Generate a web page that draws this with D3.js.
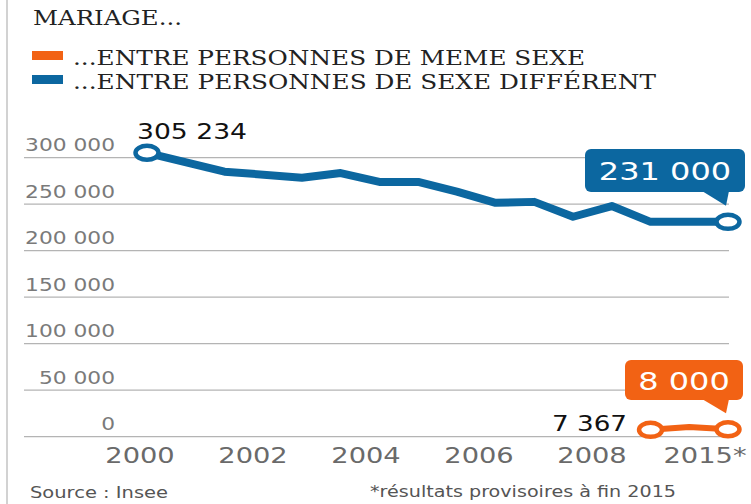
<!DOCTYPE html>
<html>
<head>
<meta charset="utf-8">
<script src="https://cdn.jsdelivr.net/npm/d3@7"></script>
<style>
  body { margin: 0; background: #fff; }
  svg { display: block; }
</style>
</head>
<body>
<div id="chart"></div>
<script>
// Mariages en France, 2000-2015
const width = 751;
const height = 504;

// blue series: marriages between persons of different sex
const diffYears = [2000, 2002, 2004, 2005, 2006, 2007, 2008, 2009, 2010, 2011, 2012, 2013, 2015];
const diffValues = [305234, 285000, 278500, 283500, 274000, 274000, 263500, 251500, 252500, 236500, 248000, 231000, 231000];

// orange series: marriages between persons of same sex
const sameYears = [2013, 2014, 2015];
const sameValues = [7367, 10500, 8000];

const xLabels = ["2000", "2002", "2004", "2006", "2008", "2015*"];
const yTicks = [0, 50000, 100000, 150000, 200000, 250000, 300000];

const blue = "#0c67a0";
const orange = "#f26214";
const sans = "Verdana, 'DejaVu Sans', sans-serif";
const serif = "'DejaVu Serif', serif";
const sx = 1.28; // the original type is stretched horizontally

const fr = d3.formatLocale({ decimal: ",", thousands: " ", grouping: [3], currency: ["", " €"] });
const fmt = fr.format(",d");

const svg = d3.select("#chart").append("svg")
    .attr("width", width)
    .attr("height", height);

const x = d3.scaleLinear().domain([2000, 2015]).range([147, 728]);
const y = d3.scaleLinear().domain([0, 300000]).range([436.7, 157.7]);
const xLab = d3.scalePoint().domain(xLabels).range([140, 705]);

// left border
svg.append("line")
    .attr("x1", 7).attr("x2", 7).attr("y1", 0).attr("y2", height)
    .attr("stroke", "#d2d2d2").attr("stroke-width", 2);

// helper for stretched text
function stretched(g, str, tx, ty, size, fill, anchor, k) {
    return g.append("text")
        .attr("transform", `translate(${tx},${ty}) scale(${k || sx},1)`)
        .attr("text-anchor", anchor || "start")
        .attr("font-family", sans)
        .attr("font-size", size)
        .attr("fill", fill)
        .text(str);
}

// header
const head = svg.append("g");
head.append("text")
    .attr("x", 33).attr("y", 25)
    .attr("font-family", serif).attr("font-size", 20).attr("fill", "#222")
    .attr("textLength", 149).attr("lengthAdjust", "spacingAndGlyphs")
    .text("MARIAGE...");

const legend = [
    { label: "...ENTRE PERSONNES DE MEME SEXE", color: orange, y: 65, w: 512 },
    { label: "...ENTRE PERSONNES DE SEXE DIFFÉRENT", color: blue, y: 89, w: 583 }
];
legend.forEach(d => {
    head.append("rect")
        .attr("x", 32).attr("y", d.y - 14).attr("width", 31).attr("height", 9)
        .attr("fill", d.color);
    head.append("text")
        .attr("x", 73).attr("y", d.y)
        .attr("font-family", serif).attr("font-size", 20).attr("fill", "#222")
        .attr("textLength", d.w).attr("lengthAdjust", "spacingAndGlyphs")
        .text(d.label);
});

// gridlines and y labels
const grid = svg.append("g");
yTicks.forEach(t => {
    grid.append("line")
        .attr("x1", 24).attr("x2", 729)
        .attr("y1", y(t)).attr("y2", y(t))
        .attr("stroke", "#b4b4b4").attr("stroke-width", 1.2);
    stretched(grid, fmt(t), 115, y(t) - 6.5, 17, "#7a7a7a", "end");
});

// x labels
const xg = svg.append("g");
xLabels.forEach(l => {
    stretched(xg, l, xLab(l), 463, 21, "#6a6a6a", "middle", 1.3);
});

// lines
const line = d3.line()
    .x(d => x(d[0]))
    .y(d => y(d[1]));

const diff = diffYears.map((yr, i) => [yr, diffValues[i]]);
const same = sameYears.map((yr, i) => [yr, sameValues[i]]);

svg.append("path")
    .datum(diff)
    .attr("d", line)
    .attr("fill", "none")
    .attr("stroke", blue)
    .attr("stroke-width", 8)
    .attr("stroke-linejoin", "round");

svg.append("path")
    .datum(same)
    .attr("d", line)
    .attr("fill", "none")
    .attr("stroke", orange)
    .attr("stroke-width", 6)
    .attr("stroke-linejoin", "round");

// end markers
const marks = [
    { p: diff[0], c: blue },
    { p: diff[diff.length - 1], c: blue },
    { p: same[0], c: orange },
    { p: same[same.length - 1], c: orange }
];
svg.append("g").selectAll("ellipse")
    .data(marks)
    .enter().append("ellipse")
    .attr("cx", d => x(d.p[0]))
    .attr("cy", d => y(d.p[1]))
    .attr("rx", 11.5)
    .attr("ry", 7)
    .attr("fill", "#fff")
    .attr("stroke", d => d.c)
    .attr("stroke-width", 4.5);

// plain value labels
stretched(svg, fmt(diff[0][1]), 137, 139, 22, "#111", "start", 1.21);
stretched(svg, fmt(same[0][1]), 627, 431, 22, "#111", "end", 1.19);

// callouts
function callout(value, color, px, py, box) {
    const g = svg.append("g");
    g.append("rect")
        .attr("x", box.x).attr("y", box.y)
        .attr("width", box.w).attr("height", box.h)
        .attr("rx", 6).attr("fill", color);
    g.append("path")
        .attr("d", `M${px - 26},${box.y + box.h - 1} L${px + 1},${box.y + box.h - 1} L${px - 2},${py} Z`)
        .attr("fill", color);
    stretched(g, fmt(value), box.x + box.w / 2, box.y + box.h / 2 + 9.5, 25, "#fff", "middle");
}
const lastDiff = diff[diff.length - 1];
const lastSame = same[same.length - 1];
callout(lastDiff[1], blue, x(lastDiff[0]), y(lastDiff[1]) - 16, { x: 585, y: 149, w: 160, h: 43 });
callout(lastSame[1], orange, x(lastSame[0]), y(lastSame[1]) - 16, { x: 625, y: 360, w: 118, h: 40 });

// footer
svg.append("text")
    .attr("x", 30).attr("y", 498)
    .attr("font-family", sans).attr("font-size", 15).attr("fill", "#555")
    .attr("textLength", 138).attr("lengthAdjust", "spacingAndGlyphs")
    .text("Source : Insee");
svg.append("text")
    .attr("x", 370).attr("y", 497)
    .attr("font-family", sans).attr("font-size", 15).attr("fill", "#555")
    .attr("textLength", 306).attr("lengthAdjust", "spacingAndGlyphs")
    .text("*résultats provisoires à fin 2015");
</script>
</body>
</html>
